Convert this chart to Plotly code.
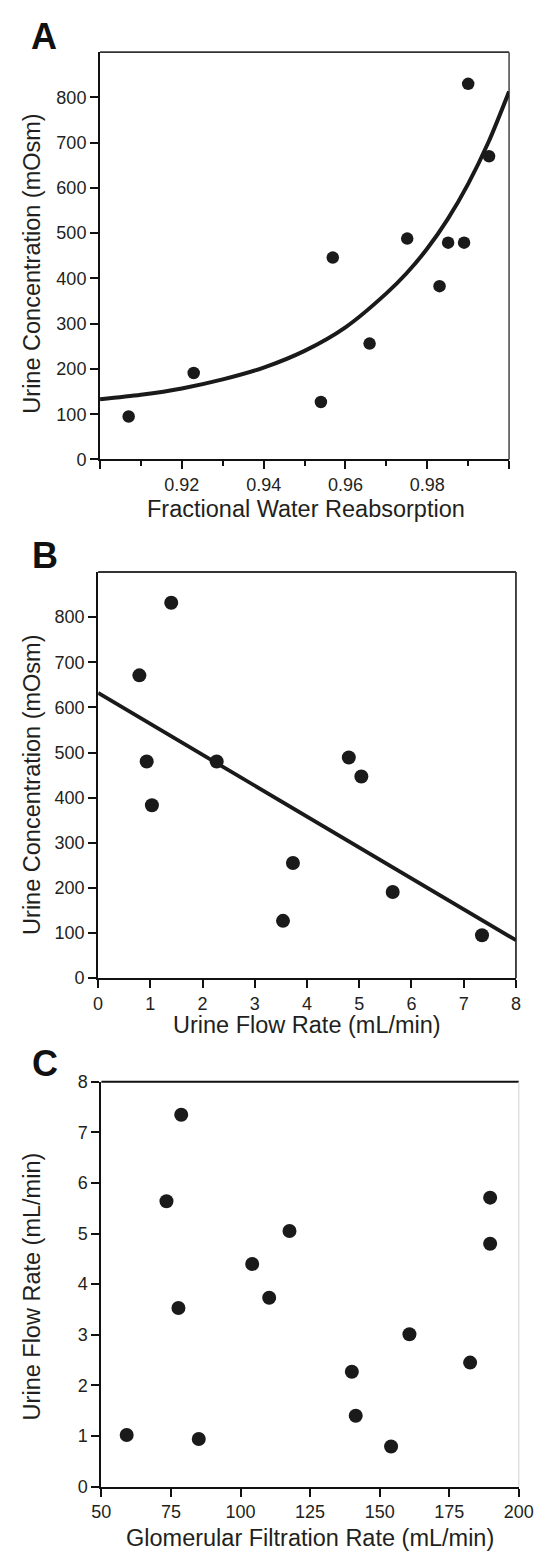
import plotly.graph_objects as go

W, H = 551, 1561
FONT = "Liberation Sans, Arial, sans-serif"
TXT = "#231f20"
INK = "#1a1a1a"

# ---------------- data ----------------
# Panel A: fractional water reabsorption vs urine concentration
a_frac = [0.9070, 0.9229, 0.9540, 0.9569, 0.9659, 0.9751, 0.9830, 0.9851, 0.9890, 0.9900, 0.9951]
a_conc = [95, 191, 127, 446, 256, 488, 383, 479, 479, 830, 670]
# fitted curve
a_fit_x = [0.900, 0.910, 0.920, 0.930, 0.940, 0.950, 0.960, 0.970, 0.975, 0.980, 0.985, 0.990, 0.995, 1.000]
a_fit_y = [133, 143, 157, 177, 203, 240, 292, 367, 412, 466, 531, 609, 702, 813]

# Panel B: urine flow rate vs urine concentration
b_flow = [0.79, 1.40, 0.93, 1.03, 2.27, 4.80, 5.04, 3.73, 3.54, 5.64, 7.35]
b_conc = [671, 832, 480, 383, 480, 489, 447, 255, 127, 191, 95]
b_fit_x = [0, 8]
b_fit_y = [632, 84]

# Panel C: GFR vs urine flow rate
c_gfr = [59.1, 73.4, 78.7, 77.7, 85.0, 104.2, 110.3, 117.6, 140.0, 141.4, 154.1, 160.7, 182.5, 189.7, 189.7]
c_flow = [1.02, 5.64, 7.35, 3.53, 0.94, 4.40, 3.73, 5.05, 2.27, 1.40, 0.79, 3.01, 2.45, 5.71, 4.80]

a_xticks = [0.90, 0.92, 0.94, 0.96, 0.98, 1.00]
a_xticktext = ["", "0.92", "0.94", "0.96", "0.98", ""]
a_xminor = [0.91, 0.93, 0.95, 0.97, 0.99]
conc_ticks = [0, 100, 200, 300, 400, 500, 600, 700, 800]
b_xticks = [0, 1, 2, 3, 4, 5, 6, 7, 8]
c_xticks = [50, 75, 100, 125, 150, 175, 200]
c_yticks = [0, 1, 2, 3, 4, 5, 6, 7, 8]

panel_labels = ["A", "B", "C"]
x_titles = ["Fractional Water Reabsorption", "Urine Flow Rate (mL/min)",
            "Glomerular Filtration Rate (mL/min)"]
y_titles = ["Urine Concentration (mOsm)", "Urine Concentration (mOsm)",
            "Urine Flow Rate (mL/min)"]

# ---------------- layout geometry (pixels) ----------------
boxes = {  # left, right, top, bottom
    "A": (94.3, 522.8, 42.7, 455.3),
    "B": (92.3, 530.0, 569.3, 980.7),
    "C": (95.7, 533.0, 1085.7, 1495.7),
}

def xd(l, r):
    return [l / W, r / W]

def yd(t, b):
    return [1 - b / H, 1 - t / H]

fig = go.Figure()

# Panel A
fig.add_trace(go.Scatter(x=a_fit_x, y=a_fit_y, mode="lines",
                         line=dict(color=INK, width=4, shape="spline", smoothing=0.8),
                         xaxis="x", yaxis="y", showlegend=False, hoverinfo="skip"))
fig.add_trace(go.Scatter(x=a_frac, y=a_conc, mode="markers", marker=dict(color=INK, size=12.5),
                         xaxis="x", yaxis="y", showlegend=False))
# Panel B
fig.add_trace(go.Scatter(x=b_fit_x, y=b_fit_y, mode="lines", line=dict(color=INK, width=3.8),
                         xaxis="x2", yaxis="y2", showlegend=False, hoverinfo="skip"))
fig.add_trace(go.Scatter(x=b_flow, y=b_conc, mode="markers", marker=dict(color=INK, size=14),
                         xaxis="x2", yaxis="y2", showlegend=False))
# Panel C
fig.add_trace(go.Scatter(x=c_gfr, y=c_flow, mode="markers", marker=dict(color=INK, size=14),
                         xaxis="x3", yaxis="y3", showlegend=False))

tickfont = dict(family=FONT, size=18, color=TXT)
axcommon = dict(showgrid=False, zeroline=False, showline=True, linecolor="#111111", linewidth=2,
                ticks="outside", ticklen=8, tickwidth=1.6, tickcolor="#111111", tickfont=tickfont)

lA, rA, tA, bA = boxes["A"]
lB, rB, tB, bB = boxes["B"]
lC, rC, tC, bC = boxes["C"]

fig.update_layout(
    width=W, height=H, autosize=False,
    margin=dict(l=0, r=0, t=0, b=0),
    paper_bgcolor="white", plot_bgcolor="white",
    xaxis=dict(domain=xd(lA, rA), anchor="y", range=[0.90, 1.00], tickmode="array",
               tickvals=a_xticks, ticktext=a_xticktext,
               minor=dict(tickmode="array", tickvals=a_xminor, ticks="outside", ticklen=4.5,
                          tickwidth=1.6, tickcolor="#111111"),
               **axcommon),
    yaxis=dict(domain=yd(tA, bA), anchor="x", range=[0, 900], tickmode="array", tickvals=conc_ticks,
               **axcommon),
    xaxis2=dict(domain=xd(lB, rB), anchor="y2", range=[0, 8], tickmode="array", tickvals=b_xticks,
                **axcommon),
    yaxis2=dict(domain=yd(tB, bB), anchor="x2", range=[0, 900], tickmode="array", tickvals=conc_ticks,
                **axcommon),
    xaxis3=dict(domain=xd(lC, rC), anchor="y3", range=[50, 200], tickmode="array", tickvals=c_xticks,
                **axcommon),
    yaxis3=dict(domain=yd(tC, bC), anchor="x3", range=[0, 8], tickmode="array", tickvals=c_yticks,
                **axcommon),
)

# box borders (top and right)
def border(xref, yref, x0, y0, x1, y1, color, width):
    fig.add_shape(type="line", xref=xref, yref=yref, x0=x0, y0=y0, x1=x1, y1=y1,
                  line=dict(color=color, width=width), layer="below")

border("x domain", "y domain", 0, 1, 1, 1, "#333333", 1.8)
border("x domain", "y domain", 1, 0, 1, 1, "#444444", 1.5)
border("x2 domain", "y2 domain", 0, 1, 1, 1, "#333333", 1.8)
border("x2 domain", "y2 domain", 1, 0, 1, 1, "#333333", 1.8)
border("x3 domain", "y3 domain", 0, 1, 1, 1, "#111111", 2)
border("x3 domain", "y3 domain", 1, 0, 1, 1, "#d0d0d0", 1)

# panel letters
label_pos = [(36, 27), (37, 553), (37, 1067)]
for lab, (px, py) in zip(panel_labels, label_pos):
    fig.add_annotation(text=f"<b>{lab}</b>", xref="paper", yref="paper", x=px / W, y=1 - py / H,
                       xanchor="center", yanchor="middle", showarrow=False,
                       font=dict(family=FONT, size=36, color="#111111"))

# axis titles
xt_pos = [(310, 505), (311, 1028), (314, 1548)]
yt_pos = [(23, 257), (23, 785), (23, 1293)]
tfont = dict(family=FONT, size=23.5, color=TXT)
for t, (px, py) in zip(x_titles, xt_pos):
    fig.add_annotation(text=t, xref="paper", yref="paper", x=px / W, y=1 - py / H,
                       xanchor="center", yanchor="middle", showarrow=False, font=tfont)
for t, (px, py) in zip(y_titles, yt_pos):
    fig.add_annotation(text=t, xref="paper", yref="paper", x=px / W, y=1 - py / H,
                       xanchor="center", yanchor="middle", showarrow=False, textangle=-90, font=tfont)

fig.write_html("out.html")
